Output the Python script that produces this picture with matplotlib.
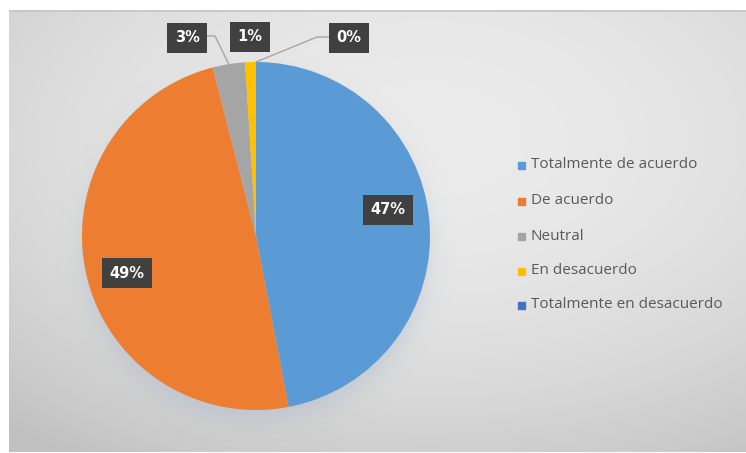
import numpy as np
import matplotlib
matplotlib.use("Agg")
import matplotlib.pyplot as plt
from matplotlib.patches import Rectangle

# Survey responses (percent of respondents)
categories = ["Totalmente de acuerdo", "De acuerdo", "Neutral",
              "En desacuerdo", "Totalmente en desacuerdo"]
values = [47, 49, 3, 1, 0]
colors = ["#5B9BD5", "#ED7D31", "#A5A5A5", "#FFC000", "#4472C4"]

W, H = 746, 453
fig = plt.figure(figsize=(W / 100, H / 100), dpi=100)
fig.patch.set_facecolor("white")

# ---- chart area background: soft radial gradient ----
bx0, by0, bw, bh = 9, 10, 737, 443          # pixels, top-left origin
bg = fig.add_axes([bx0 / W, (H - by0 - bh) / H, bw / W, bh / H], zorder=0)
yy, xx = np.mgrid[0:bh, 0:bw]
xc, yc = 420, 170
d2 = ((xx - xc) / (bw / 2)) ** 2 + ((yy - yc) / (bh / 2)) ** 2
shade = 0.935 - 0.055 * d2 - 0.04 * (yy / bh)
shade = np.clip(shade, 0.76, 0.95)
bg.imshow(np.dstack([shade] * 3), aspect="auto", interpolation="bilinear")
bg.plot([0, bw], [0.5, 0.5], color="#c4c4c4", lw=1.2)
bg.set_xlim(0, bw)
bg.set_ylim(bh, 0)
bg.axis("off")

# ---- pie ----
cx, cy, R, S = 256, 236, 174, 205
ax = fig.add_axes([(cx - S) / W, (H - cy - S) / H, 2 * S / W, 2 * S / H], zorder=1)

# soft drop shadow beneath the pie
gy, gx = np.mgrid[-S / R:S / R:400j, -S / R:S / R:400j]
r = np.hypot(gx, gy + 0.07)
a = 0.35 / (1 + np.exp((r - 1.0) / 0.035))
shadow = np.zeros(gx.shape + (4,))
shadow[..., 0], shadow[..., 1], shadow[..., 2] = 0.62, 0.68, 0.80
shadow[..., 3] = a
ax.imshow(shadow, extent=(-S / R, S / R, -S / R, S / R), origin="lower",
          aspect="auto", zorder=0)

wedges, _ = ax.pie(values, colors=colors, startangle=90, counterclock=False,
                   radius=1.0, center=(0, 0), frame=True,
                   wedgeprops=dict(linewidth=0))
for w in wedges:
    w.set_zorder(2)
ax.set_xlim(-S / R, S / R)
ax.set_ylim(-S / R, S / R)
ax.axis("off")


def px(p):
    """Pixel (x, y from top) to pie data coordinates."""
    return ((p[0] - cx) / R, (cy - p[1]) / R)


label_pos = [(388, 210), (127, 273), (187, 38), (250, 37), (349, 38)]
for v, pos in zip(values, label_pos):
    x, y = px(pos)
    ax.text(x, y, f"{v}%", ha="center", va="center", color="white",
            fontsize=10.5, fontweight="bold", family="DejaVu Sans", zorder=5,
            bbox=dict(boxstyle="square,pad=0.5", fc="#404040", ec="none"))

# leader lines for the thin slices
def mid_point(i):
    w = wedges[i]
    t = np.deg2rad((w.theta1 + w.theta2) / 2)
    return np.cos(t), np.sin(t)

leaders = {2: [(205, 36), (215, 36)], 4: [(330, 37), (317, 37)]}
for i, pts in leaders.items():
    xs = [px(p)[0] for p in pts]
    ys = [px(p)[1] for p in pts]
    mx, my = mid_point(i)
    ax.plot(xs + [mx], ys + [my], color="#a6a6a6", lw=1.0, zorder=4)

# ---- legend ----
lg = fig.add_axes([0, 0, 1, 1], zorder=2)
lg.set_xlim(0, W)
lg.set_ylim(H, 0)
lg.axis("off")
rows = [165, 201, 236, 271, 305]
for name, col, yrow in zip(categories, colors, rows):
    lg.add_patch(Rectangle((518, yrow - 3.5), 7, 7, color=col))
    lg.text(531, yrow, name, ha="left", va="center", color="#595959",
            fontsize=11, family="Open Sans")

fig.savefig("out.png", dpi=100)
